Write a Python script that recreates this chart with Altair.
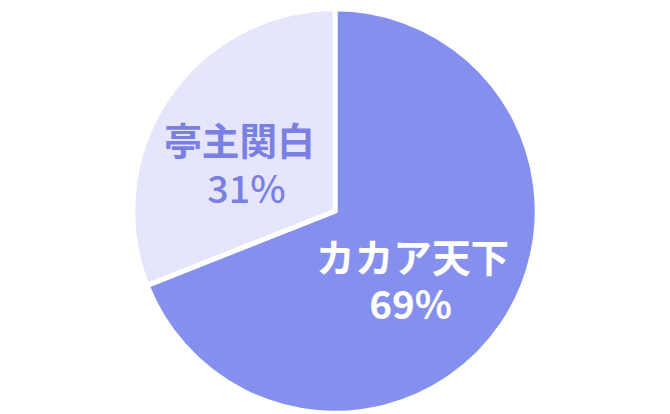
import altair as alt
import pandas as pd

names = ["カカア天下", "亭主関白"]
values = [69, 31]
orders = [1, 2]

df = pd.DataFrame({"name": names, "value": values, "order": orders})

FONT = "Noto Sans CJK JP"
BIG = "#8590EE"
SMALL = "#E5E5FC"
SMALL_TEXT = "#7A7FE3"

base = alt.Chart(df).encode(
    theta=alt.Theta("value:Q", stack=True),
    order=alt.Order("order:Q"),
)

pie = base.mark_arc(radius=204, stroke="white", strokeWidth=5).encode(
    color=alt.Color("name:N", scale=alt.Scale(domain=names, range=[BIG, SMALL]), legend=None)
)

def label(who, field, dx, dy, color, weight, size):
    return base.transform_calculate(
        pct="datum.value + '%'"
    ).mark_text(
        radius=102, dx=dx, dy=dy, font=FONT, fontSize=size, fontWeight=weight,
        color=color, align="center", baseline="middle",
    ).encode(
        text=alt.condition(f"datum.name == '{who}'", alt.Text(f"{field}:N"), alt.value(""))
    )

layers = [
    pie,
    label("亭主関白", "name", -12, -10, SMALL_TEXT, "bold", 38),
    label("亭主関白", "pct", -5, 38, SMALL_TEXT, 500, 38),
    label("カカア天下", "name", -6, -8, "white", "bold", 39),
    label("カカア天下", "pct", -8, 40, "white", "bold", 39),
]

chart = alt.layer(*layers).properties(
    width=660, height=406, padding=0, autosize=alt.AutoSizeParams(type="none")
).configure_view(stroke=None)

chart.save("out.html", embed_options={"renderer": "svg", "actions": False})
